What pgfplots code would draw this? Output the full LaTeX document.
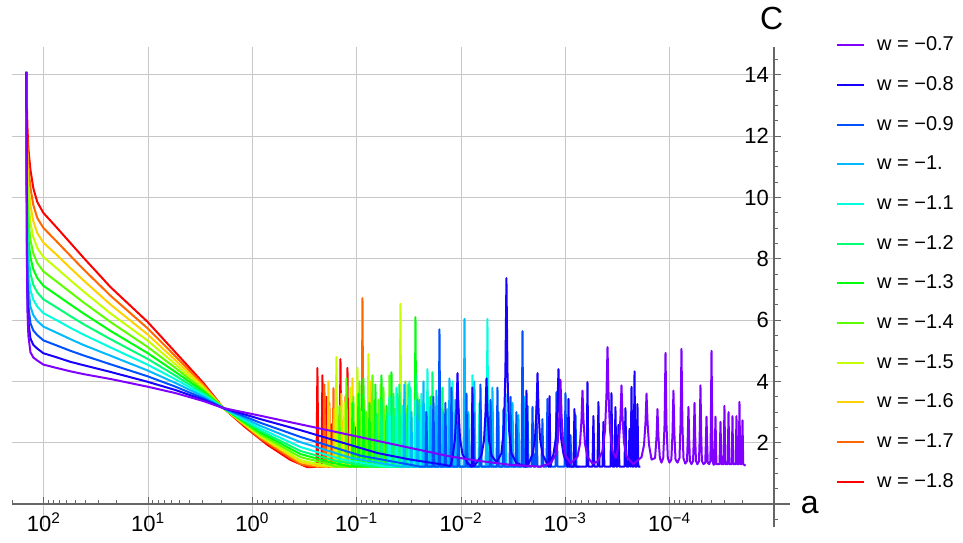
\documentclass[border=0pt]{standalone}
\usepackage{fontspec}
\setmainfont{Liberation Sans}
\usepackage{pgfplots}
\pgfplotsset{compat=1.18}
\definecolor{cP}{hsb}{0.75,1,1}
\definecolor{cB}{hsb}{0.6818,1,1}
\definecolor{cAz}{hsb}{0.6136,1,1}
\definecolor{cSk}{hsb}{0.5455,1,1}
\definecolor{cAq}{hsb}{0.4773,1,1}
\definecolor{cSp}{hsb}{0.4091,1,1}
\definecolor{cGr}{hsb}{0.3409,1,1}
\definecolor{cCh}{hsb}{0.2727,1,1}
\definecolor{cYG}{hsb}{0.2045,1,1}
\definecolor{cGd}{hsb}{0.1364,1,1}
\definecolor{cO}{hsb}{0.0682,1,1}
\definecolor{cR}{hsb}{0,1,1}
\begin{document}
\begin{tikzpicture}
\path[use as bounding box] (-6pt,-7.5pt) rectangle (475.5pt,263.5pt);
\begin{axis}[
  at={(0,0)}, anchor=south west,
  scale only axis, width=381pt, height=239.8pt,
  x dir=reverse,
  xmin=-5, xmax=2.305, ymin=-0.75, ymax=14.9,
  axis x line*=middle, axis y line*=right,
  axis line style={black!60, line width=0.6pt},
  clip=false,
  xtick={-4,-3,-2,-1,0,1,2},
  xticklabels={10\textsuperscript{−4},10\textsuperscript{−3},10\textsuperscript{−2},10\textsuperscript{−1},10\textsuperscript{0},10\textsuperscript{1},10\textsuperscript{2}},
  minor xtick={2.301,1.301,1.477,1.602,1.699,1.778,1.845,1.903,1.954,
    0.301,0.477,0.602,0.699,0.778,0.845,0.903,0.954,
    -0.699,-0.523,-0.398,-0.301,-0.222,-0.155,-0.097,-0.046,
    -1.699,-1.523,-1.398,-1.301,-1.222,-1.155,-1.097,-1.046,
    -2.699,-2.523,-2.398,-2.301,-2.222,-2.155,-2.097,-2.046,
    -3.699,-3.523,-3.398,-3.301,-3.222,-3.155,-3.097,-3.046,
    -4.699,-4.523,-4.398,-4.301,-4.222,-4.155,-4.097,-4.046},
  ytick={2,4,6,8,10,12,14},
  minor ytick={-0.5,0.5,1,1.5,2.5,3,3.5,4.5,5,5.5,6.5,7,7.5,8.5,9,9.5,10.5,11,11.5,12.5,13,13.5,14.5},
  xtick align=inside, ytick align=outside,
  major tick length=3.5pt, minor tick length=2pt,
  tick style={black!60, line width=0.5pt},
  /pgf/number format/assume math mode=true,
  xticklabel style={font=\fontsize{11}{13}\selectfont, yshift=-1pt},
  yticklabel style={font=\fontsize{11}{13}\selectfont, anchor=east, xshift=-2.5pt},
  grid=major, grid style={black!22, line width=0.5pt},
  every axis plot/.append style={line width=1pt, line join=round, no markers},
  reverse legend,
  legend cell align=left,
  legend image code/.code={\draw[#1] (0pt,0pt) -- (13.5pt,0pt);},
  legend style={draw=none, fill=none, at={(axis description cs:1.081,1.023)}, anchor=north west,
    inner sep=0pt, row sep=11.4pt, font=\fontsize{10}{12}\selectfont,
    nodes={inner sep=0pt},
    /tikz/every odd column/.append style={column sep=6pt}},
]
\addplot[cR] table {
x y
2.167 14.1
2.162 13.0
2.157 12.3
2.148 11.6
2.128 10.9
2.100 10.3
2.062 9.85
2.004 9.5
1.889 9.07
1.745 8.52
1.620 8.04
1.361 7.08
1.007 5.95
0.738 4.95
0.470 3.95
0.278 3.13
0.067 2.5
-0.144 1.93
-0.364 1.44
-0.527 1.2
-0.585 1.21
-0.614 1.22
-0.623 4.44
-0.632 1.22
-0.662 1.22
-0.671 4.2
-0.680 1.22
-0.700 1.22
-0.709 3.5
-0.718 1.22
-0.748 1.22
-0.757 2.6
-0.766 1.22
-0.835 1.22
-0.844 4.73
-0.853 1.22
-0.902 1.22
-0.911 4.44
-0.920 1.22
-0.931 1.22
-0.940 3.0
-0.949 1.22
-0.979 1.22
-0.988 2.5
-0.997 1.22
-1.055 1.22
-1.064 3.23
-1.073 1.22
-1.103 1.22
-1.112 2.4
-1.121 1.22
-1.161 1.22
-1.170 2.2
-1.179 1.22
-1.209 1.22
-1.218 2.0
-1.227 1.22
-1.256 1.22
};
\addlegendentry{w = −1.8}
\addplot[cO] table {
x y
2.167 14.1
2.162 12.5
2.157 11.7
2.148 10.99
2.128 10.31
2.100 9.75
2.062 9.33
2.004 9.01
1.889 8.61
1.745 8.10
1.620 7.66
1.361 6.80
1.007 5.74
0.738 4.82
0.470 3.89
0.278 3.13
-0.077 2.14
-0.460 1.30
-0.556 1.24
-0.652 1.21
-0.681 1.22
-0.690 3.9
-0.699 1.22
-0.729 1.22
-0.738 3.3
-0.747 1.22
-0.768 1.22
-0.777 3.78
-0.786 1.22
-0.825 1.22
-0.834 2.9
-0.843 1.22
-0.883 1.22
-0.892 3.5
-0.901 1.22
-0.959 1.22
-0.968 2.6
-0.977 1.22
-1.046 1.22
-1.055 6.72
-1.064 1.22
-1.084 1.22
-1.093 3.0
-1.102 1.22
-1.132 1.22
-1.141 3.6
-1.150 1.22
-1.189 1.22
-1.198 2.7
-1.207 1.22
-1.247 1.22
-1.256 3.2
-1.265 1.22
-1.305 1.22
-1.314 2.4
-1.323 1.22
-1.352 1.22
};
\addlegendentry{w = −1.7}
\addplot[cGd] table {
x y
2.167 14.1
2.162 12.03
2.157 11.13
2.148 10.41
2.128 9.74
2.100 9.22
2.062 8.84
2.004 8.53
1.889 8.17
1.745 7.70
1.620 7.30
1.361 6.51
1.007 5.54
0.738 4.69
0.470 3.83
0.278 3.13
-0.077 2.19
-0.460 1.37
-0.604 1.26
-0.700 1.22
-0.720 1.22
-0.729 4.0
-0.738 1.22
-0.777 1.22
-0.786 3.1
-0.795 1.22
-0.844 1.22
-0.853 3.6
-0.862 1.22
-0.892 1.22
-0.901 2.8
-0.910 1.22
-0.950 1.22
-0.959 4.1
-0.968 1.22
-0.998 1.22
-1.007 3.0
-1.016 1.22
-1.065 1.22
-1.074 3.4
-1.083 1.22
-1.122 1.22
-1.131 4.0
-1.140 1.22
-1.170 1.22
-1.179 2.9
-1.188 1.22
-1.228 1.22
-1.237 3.5
-1.246 1.22
-1.295 1.22
-1.304 2.6
-1.313 1.22
-1.362 1.22
-1.371 3.0
-1.380 1.22
-1.409 1.22
};
\addlegendentry{w = −1.6}
\addplot[cYG] table {
x y
2.167 14.1
2.162 11.55
2.157 10.56
2.148 9.83
2.128 9.17
2.100 8.70
2.062 8.35
2.004 8.06
1.889 7.73
1.745 7.30
1.620 6.94
1.361 6.22
1.007 5.34
0.738 4.56
0.470 3.78
0.278 3.13
-0.077 2.22
-0.460 1.43
-0.652 1.29
-0.770 1.22
-0.796 1.22
-0.805 4.8
-0.814 1.22
-0.873 1.22
-0.882 3.3
-0.891 1.22
-0.931 1.22
-0.940 3.8
-0.949 1.22
-0.998 1.22
-1.007 4.44
-1.016 1.22
-1.036 1.22
-1.045 3.0
-1.054 1.22
-1.103 1.22
-1.112 4.89
-1.121 1.22
-1.161 1.22
-1.170 3.2
-1.179 1.22
-1.218 1.22
-1.227 3.9
-1.236 1.22
-1.276 1.22
-1.285 2.9
-1.294 1.22
-1.333 1.22
-1.342 3.6
-1.351 1.22
-1.410 1.22
-1.419 6.53
-1.428 1.22
-1.458 1.22
-1.467 3.1
-1.476 1.22
-1.506 1.22
-1.515 2.7
-1.524 1.22
-1.553 1.22
};
\addlegendentry{w = −1.5}
\addplot[cCh] table {
x y
2.167 14.1
2.162 11.08
2.157 9.99
2.148 9.25
2.128 8.61
2.100 8.17
2.062 7.86
2.004 7.59
1.889 7.29
1.745 6.91
1.620 6.58
1.361 5.94
1.007 5.13
0.738 4.44
0.470 3.72
0.278 3.13
-0.077 2.27
-0.460 1.53
-0.700 1.33
-0.796 1.22
-0.825 1.22
-0.834 3.2
-0.843 1.22
-0.892 1.22
-0.901 4.1
-0.910 1.22
-0.959 1.22
-0.968 3.5
-0.977 1.22
-1.017 1.22
-1.026 4.0
-1.035 1.22
-1.084 1.22
-1.093 3.0
-1.102 1.22
-1.142 1.22
-1.151 4.2
-1.160 1.22
-1.199 1.22
-1.208 3.4
-1.217 1.22
-1.247 1.22
-1.256 3.8
-1.265 1.22
-1.305 1.22
-1.314 4.2
-1.323 1.22
-1.352 1.22
-1.361 3.1
-1.370 1.22
-1.400 1.22
-1.409 3.5
-1.418 1.22
-1.458 1.22
-1.467 4.0
-1.476 1.22
-1.515 1.22
-1.524 3.0
-1.533 1.22
-1.573 1.22
-1.582 3.6
-1.591 1.22
-1.631 1.22
-1.640 2.8
-1.649 1.22
-1.678 1.22
};
\addlegendentry{w = −1.4}
\addplot[cGr] table {
x y
2.167 14.1
2.162 10.6
2.157 9.42
2.148 8.67
2.128 8.04
2.100 7.65
2.062 7.37
2.004 7.12
1.889 6.85
1.745 6.51
1.620 6.22
1.361 5.65
1.007 4.93
0.738 4.31
0.470 3.67
0.278 3.13
-0.077 2.33
-0.460 1.63
-0.748 1.36
-0.940 1.22
-0.950 1.22
-0.959 3.3
-0.968 1.22
-1.007 1.22
-1.016 3.6
-1.025 1.22
-1.055 1.22
-1.064 4.1
-1.073 1.22
-1.113 1.22
-1.122 3.3
-1.131 1.22
-1.170 1.22
-1.179 3.9
-1.188 1.22
-1.228 1.22
-1.237 4.2
-1.246 1.22
-1.276 1.22
-1.285 3.2
-1.294 1.22
-1.324 1.22
-1.333 4.3
-1.342 1.22
-1.381 1.22
-1.390 3.6
-1.399 1.22
-1.439 1.22
-1.448 3.0
-1.457 1.22
-1.487 1.22
-1.496 3.9
-1.505 1.22
-1.554 1.22
-1.563 6.1
-1.572 1.22
-1.592 1.22
-1.601 3.4
-1.610 1.22
-1.650 1.22
-1.659 3.0
-1.668 1.22
-1.698 1.22
-1.707 3.5
-1.716 1.22
-1.755 1.22
-1.764 2.8
-1.773 1.22
-1.803 1.22
};
\addlegendentry{w = −1.3}
\addplot[cSp] table {
x y
2.167 14.1
2.162 10.15
2.157 8.88
2.148 8.12
2.128 7.51
2.100 7.15
2.062 6.90
2.004 6.68
1.889 6.44
1.745 6.13
1.620 5.87
1.361 5.38
1.007 4.74
0.738 4.19
0.470 3.61
0.278 3.13
-0.077 2.39
-0.460 1.73
-0.805 1.40
-1.151 1.22
-1.180 1.22
-1.189 2.9
-1.198 1.22
-1.228 1.22
-1.237 3.4
-1.246 1.22
-1.285 1.22
-1.294 3.0
-1.303 1.22
-1.343 1.22
-1.352 3.6
-1.361 1.22
-1.400 1.22
-1.409 3.9
-1.418 1.22
-1.458 1.22
-1.467 3.0
-1.476 1.22
-1.506 1.22
-1.515 3.8
-1.524 1.22
-1.563 1.22
-1.572 4.2
-1.581 1.22
-1.621 1.22
-1.630 3.3
-1.639 1.22
-1.669 1.22
-1.678 3.7
-1.687 1.22
-1.717 1.22
-1.726 4.3
-1.735 1.22
-1.765 1.22
-1.774 3.2
-1.783 1.22
-1.813 1.22
-1.822 3.8
-1.831 1.22
-1.861 1.22
-1.870 3.1
-1.879 1.22
-1.909 1.22
-1.918 3.5
-1.927 1.22
-1.966 1.22
-1.975 2.9
-1.984 1.22
-2.013 1.22
};
\addlegendentry{w = −1.2}
\addplot[cAq] table {
x y
2.167 14.1
2.162 9.7
2.157 8.34
2.148 7.57
2.128 6.97
2.100 6.66
2.062 6.44
2.004 6.23
1.889 6.02
1.745 5.75
1.620 5.53
1.361 5.11
1.007 4.55
0.738 4.07
0.470 3.56
0.278 3.13
-0.077 2.46
-0.460 1.86
-0.863 1.45
-1.275 1.22
-1.305 1.22
-1.314 3.5
-1.323 1.22
-1.372 1.22
-1.381 3.8
-1.390 1.22
-1.429 1.22
-1.438 3.2
-1.447 1.22
-1.496 1.22
-1.505 4.0
-1.514 1.22
-1.554 1.22
-1.563 3.4
-1.572 1.22
-1.611 1.22
-1.620 3.6
-1.629 1.22
-1.669 1.22
-1.678 4.4
-1.687 1.22
-1.726 1.22
-1.735 3.2
-1.744 1.22
-1.794 1.22
-1.803 3.7
-1.812 1.22
-1.851 1.22
-1.860 3.0
-1.869 1.22
-1.909 1.22
-1.918 4.0
-1.927 1.22
-1.966 1.22
-1.975 3.3
-1.984 1.22
-2.033 1.22
-2.042 3.6
-2.051 1.22
-2.100 1.22
-2.109 4.2
-2.118 1.22
-2.167 1.22
-2.176 3.3
-2.185 1.22
-2.244 1.22
-2.253 6.04
-2.262 1.22
-2.292 1.22
-2.301 3.2
-2.310 1.22
-2.350 1.22
-2.359 2.8
-2.368 1.22
-2.397 1.22
};
\addlegendentry{w = −1.1}
\addplot[cSk] table {
x y
2.167 14.1
2.162 9.25
2.157 7.8
2.148 7.03
2.128 6.44
2.100 6.16
2.062 5.97
2.004 5.79
1.889 5.61
1.745 5.38
1.620 5.19
1.361 4.84
1.007 4.36
0.738 3.95
0.470 3.51
0.278 3.13
-0.077 2.55
-0.460 2.02
-0.940 1.51
-1.419 1.22
-1.448 1.22
-1.457 3.9
-1.466 1.22
-1.515 1.22
-1.524 3.0
-1.533 1.22
-1.573 1.22
-1.582 3.4
-1.591 1.22
-1.631 1.22
-1.640 4.0
-1.649 1.22
-1.698 1.22
-1.707 3.2
-1.716 1.22
-1.755 1.22
-1.764 3.7
-1.773 1.22
-1.822 1.22
-1.831 3.0
-1.840 1.22
-1.880 1.22
-1.889 4.1
-1.898 1.22
-1.937 1.22
-1.946 3.4
-1.955 1.22
-2.024 1.22
-2.033 6.04
-2.042 1.22
-2.062 1.22
-2.071 3.0
-2.080 1.22
-2.119 1.22
-2.128 4.0
-2.137 1.22
-2.177 1.22
-2.186 3.4
-2.195 1.22
-2.235 1.22
-2.244 3.1
-2.253 1.22
-2.292 1.22
-2.301 3.8
-2.310 1.22
-2.350 1.22
-2.359 3.0
-2.368 1.22
-2.417 1.22
-2.426 3.6
-2.435 1.22
-2.484 1.22
-2.493 3.3
-2.502 1.22
-2.541 1.22
-2.550 2.9
-2.559 1.22
-2.599 1.22
-2.608 3.5
-2.617 1.22
-2.646 1.22
};
\addlegendentry{w = −1.}
\addplot[cAz] table {
x y
2.167 14.1
2.162 8.8
2.157 7.26
2.148 6.48
2.128 5.90
2.100 5.66
2.062 5.51
2.004 5.34
1.889 5.19
1.745 5.00
1.620 4.85
1.361 4.56
1.007 4.17
0.738 3.83
0.470 3.45
0.278 3.13
-0.077 2.65
-0.460 2.19
-1.035 1.58
-1.611 1.22
-1.659 1.22
-1.668 3.0
-1.677 1.22
-1.726 1.22
-1.735 3.5
-1.744 1.22
-1.784 1.22
-1.793 5.7
-1.802 1.22
-1.841 1.22
-1.850 3.3
-1.859 1.22
-1.899 1.22
-1.908 3.8
-1.917 1.22
-1.966 1.22
-1.975 3.1
-1.984 1.22
-2.043 1.22
-2.052 3.6
-2.061 1.22
-2.110 1.22
-2.119 3.0
-2.128 1.22
-2.177 1.22
-2.186 3.9
-2.195 1.22
-2.273 1.22
-2.282 3.4
-2.291 1.22
-2.340 1.22
-2.349 3.8
-2.358 1.22
-2.398 1.22
-2.407 3.1
-2.416 1.22
-2.465 1.22
-2.474 3.5
-2.483 1.22
-2.522 1.22
-2.531 3.0
-2.540 1.22
-2.580 1.22
-2.589 5.64
-2.598 1.22
-2.628 1.22
-2.637 3.2
-2.646 1.22
-2.676 1.22
-2.685 3.17
-2.694 1.22
-2.714 1.22
-2.723 3.2
-2.732 1.22
-2.771 1.22
-2.780 2.77
-2.789 1.22
-2.819 1.22
-2.828 3.43
-2.837 1.22
-2.906 1.22
-2.915 3.65
-2.924 1.22
-2.992 1.22
-3.001 3.62
-3.010 1.22
-3.040 1.22
-3.049 2.25
-3.058 1.22
-3.088 1.22
-3.097 2.9
-3.106 1.22
-3.135 1.22
};
\addlegendentry{w = −0.9}
\addplot[cB] table {
x y
2.167 14.1
2.162 8.38
2.157 6.75
2.148 5.96
2.128 5.40
2.100 5.19
2.062 5.07
2.004 4.92
1.889 4.80
1.745 4.64
1.620 4.53
1.361 4.31
1.007 3.99
0.738 3.72
0.470 3.40
0.278 3.13
-0.077 2.77
-0.460 2.41
-1.203 1.66
-1.515 1.45
-1.803 1.3
-1.898 1.24
-1.918 1.5
-1.942 2.14
-1.956 3.05
-1.966 4.27
-1.976 3.05
-1.990 2.14
-2.014 1.62
-2.062 1.34
-2.100 1.22
-2.109 3.8
-2.118 1.22
-2.148 1.34
-2.196 1.59
-2.220 2.08
-2.234 2.95
-2.244 4.1
-2.254 2.95
-2.268 2.08
-2.292 1.59
-2.340 1.36
-2.387 1.65
-2.411 2.45
-2.425 4.3
-2.435 7.37
-2.445 4.3
-2.459 2.45
-2.483 1.65
-2.531 1.34
-2.618 1.22
-2.627 3.7
-2.636 1.22
-2.685 1.62
-2.709 2.14
-2.723 3.05
-2.733 4.27
-2.743 3.05
-2.757 2.14
-2.781 1.62
-2.839 1.22
-2.848 3.52
-2.857 1.22
-2.886 1.63
-2.910 2.17
-2.924 3.13
-2.934 4.4
-2.944 3.13
-2.958 2.17
-2.982 1.63
-3.021 1.22
-3.030 3.43
-3.039 1.22
-3.078 1.22
-3.087 3.1
-3.096 1.22
-3.203 1.22
-3.212 3.98
-3.221 1.22
-3.260 1.22
-3.269 2.87
-3.278 1.22
-3.308 1.22
-3.317 3.33
-3.326 1.22
-3.356 1.22
-3.365 2.68
-3.374 1.22
-3.433 1.22
-3.442 3.62
-3.451 1.22
-3.471 1.22
-3.480 3.16
-3.489 1.22
-3.500 1.22
-3.509 2.58
-3.518 1.22
-3.567 1.22
-3.576 3.13
-3.585 1.22
-3.606 1.22
-3.615 2.45
-3.623 1.22
-3.626 1.22
-3.634 3.82
-3.642 1.22
-3.655 1.22
-3.663 4.33
-3.671 1.22
-3.683 1.22
-3.691 3.26
-3.699 1.22
-3.720 1.22
};
\addlegendentry{w = −0.8}
\addplot[cP] table {
x y
2.167 14.1
2.162 8.0
2.157 6.3
2.148 5.5
2.128 4.95
2.100 4.78
2.062 4.68
2.004 4.55
1.889 4.45
1.745 4.33
1.620 4.24
1.361 4.08
1.007 3.83
0.738 3.62
0.470 3.36
0.278 3.13
-0.077 2.88
-0.460 2.6
-0.940 2.25
-1.515 1.83
-1.898 1.55
-2.186 1.4
-2.474 1.28
-2.761 1.22
-2.857 1.33
-2.905 1.59
-2.929 2.07
-2.943 2.92
-2.953 4.05
-2.963 2.92
-2.977 2.07
-3.001 1.59
-3.049 1.33
-3.116 1.54
-3.140 1.96
-3.154 2.71
-3.164 3.7
-3.174 2.71
-3.188 1.96
-3.212 1.54
-3.260 1.32
-3.308 1.38
-3.356 1.73
-3.380 2.39
-3.394 3.56
-3.404 5.12
-3.414 3.56
-3.428 2.39
-3.452 1.73
-3.485 1.5
-3.514 2.02
-3.528 2.81
-3.538 3.87
-3.548 2.81
-3.562 2.02
-3.586 1.56
-3.650 1.3
-3.730 1.53
-3.754 1.93
-3.768 2.65
-3.778 3.6
-3.788 2.65
-3.802 1.93
-3.826 1.45
-3.860 1.5
-3.874 2.2
-3.883 3.1
-3.892 2.2
-3.906 1.5
-3.921 1.35
-3.938 1.5
-3.951 2.6
-3.960 4.93
-3.969 2.6
-3.982 1.5
-3.998 1.35
-4.016 1.45
-4.027 2.3
-4.036 3.7
-4.045 2.3
-4.056 1.45
-4.075 1.35
-4.094 1.5
-4.104 2.6
-4.113 5.06
-4.122 2.6
-4.132 1.5
-4.149 1.32
-4.166 1.4
-4.172 2.0
-4.180 3.17
-4.188 2.0
-4.194 1.4
-4.209 1.3
-4.224 1.4
-4.230 2.0
-4.238 3.3
-4.246 2.0
-4.252 1.4
-4.266 1.3
-4.281 1.4
-4.287 2.1
-4.295 3.87
-4.303 2.1
-4.309 1.4
-4.325 1.3
-4.341 1.35
-4.346 1.9
-4.353 2.85
-4.360 1.9
-4.365 1.35
-4.378 1.3
-4.390 1.4
-4.394 2.4
-4.401 5.0
-4.408 2.4
-4.412 1.4
-4.421 1.28
-4.430 1.3
-4.439 2.85
-4.448 1.3
-4.478 1.3
-4.487 2.68
-4.496 1.3
-4.517 1.3
-4.525 3.2
-4.533 1.3
-4.556 1.3
-4.564 3.0
-4.572 1.3
-4.595 1.3
-4.602 2.87
-4.609 1.3
-4.633 1.3
-4.640 2.87
-4.647 1.3
-4.662 1.3
-4.669 3.33
-4.676 1.3
-4.691 1.3
-4.698 2.73
-4.705 1.3
-4.727 1.25
};
\addlegendentry{w = −0.7}
\draw[black!60, line width=0.6pt] (axis cs:-5,0) -- ([xshift=8pt]axis cs:-5,0);
\node[font=\fontsize{16}{18}\selectfont] at (axis description cs:0.997,1.060) {C};
\node[font=\fontsize{16}{18}\selectfont] at (axis description cs:1.047,0.046) {a};
\end{axis}
\end{tikzpicture}
\end{document}
